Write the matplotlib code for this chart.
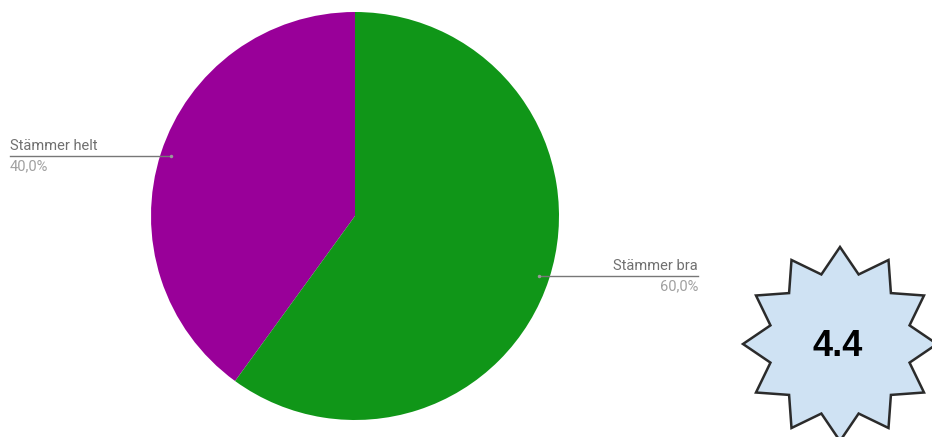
import numpy as np
import matplotlib
matplotlib.use("Agg")
import matplotlib.pyplot as plt
from matplotlib.patches import Polygon

categories = ["Stämmer helt", "Stämmer bra"]
values = [40.0, 60.0]
colors = ["#990099", "#109618"]
score = "4.4"

W, H = 932, 437
fig = plt.figure(figsize=(W / 100, H / 100), dpi=100)
ax = fig.add_axes([0, 0, 1, 1])
ax.set_xlim(0, W)
ax.set_ylim(0, H)
ax.set_aspect("equal")
ax.axis("off")

cx, cy, R = 355, H - 216, 204
wedges, _ = ax.pie(values, colors=colors, startangle=90, counterclock=True,
                   center=(cx, cy), radius=R, frame=True,
                   wedgeprops=dict(linewidth=0))
ax.set_xlim(0, W)
ax.set_ylim(0, H)
ax.axis("off")

# labels
total = sum(values)
layout = [dict(x_end=10, ha="left"), dict(x_end=698, ha="right")]
for w, cat, v, lay in zip(wedges, categories, values, layout):
    mid = np.deg2rad((w.theta1 + w.theta2) / 2)
    dx = cx + 0.95 * R * np.cos(mid)
    dy = cy + 0.95 * R * np.sin(mid)
    ax.plot([dx, lay["x_end"]], [dy, dy], color="#777777", lw=1.0)
    ax.plot([dx], [dy], "o", color="#999999", ms=2.5, mec="none")
    pct = f"{v / total * 100:.1f}%".replace(".", ",")
    ax.text(lay["x_end"], dy + 3, cat, ha=lay["ha"], va="bottom",
            fontsize=10.5, color="#707070", family="Roboto")
    ax.text(lay["x_end"], dy - 3, pct, ha=lay["ha"], va="top",
            fontsize=10.5, color="#a0a0a0", family="Roboto")

# star badge
scx, scy = 840, H - 344
n = 12
ro, ri = 97, 72
angs = np.deg2rad(90 + np.arange(2 * n) * 180 / n)
rads = np.where(np.arange(2 * n) % 2 == 0, ro, ri)
pts = np.column_stack([scx + rads * np.cos(angs), scy + rads * np.sin(angs)])
ax.add_patch(Polygon(pts, closed=True, facecolor="#cfe2f3", edgecolor="#2b2b2b",
                     lw=1.8, clip_on=True))
ax.text(scx - 2, scy - 3, score, ha="center", va="center", fontsize=26,
        fontweight="bold", family="Liberation Sans", color="#000000")

fig.savefig("out.png", dpi=100)
